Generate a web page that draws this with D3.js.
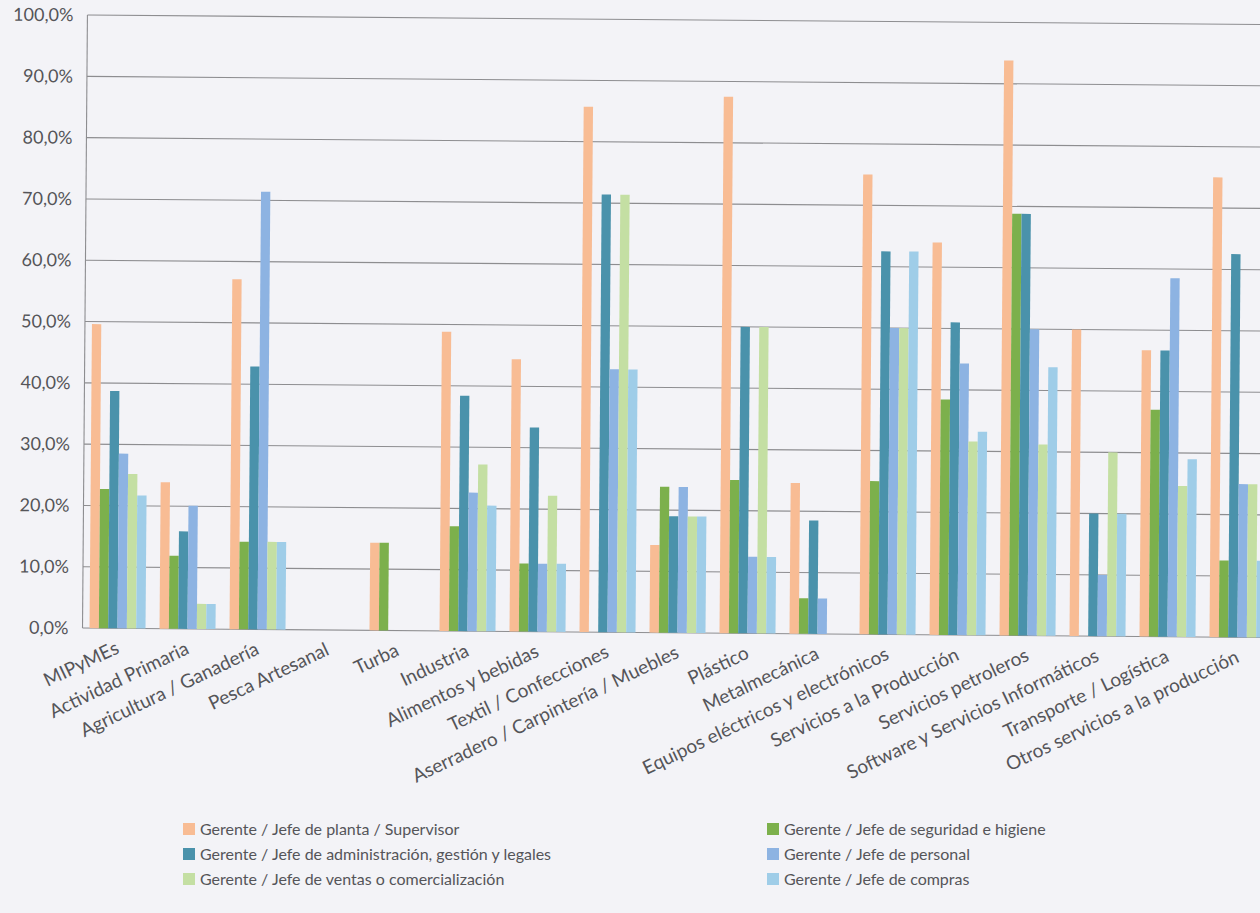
<!DOCTYPE html>
<html><head><meta charset="utf-8">
<script src="https://cdn.jsdelivr.net/npm/d3@7"></script>
<style>
html,body{margin:0;padding:0;background:#f3f3f7;}
svg{display:block;}
text{font-family:Lato,"Open Sans",sans-serif;fill:#555559;}
</style></head>
<body>
<svg id="chart" width="1260" height="913"></svg>
<script>
const categories = ["MIPyMEs","Actividad Primaria","Agricultura / Ganadería","Pesca Artesanal","Turba","Industria","Alimentos y bebidas","Textil / Confecciones","Aserradero / Carpintería / Muebles","Plástico","Metalmecánica","Equipos eléctricos y electrónicos","Servicios a la Producción","Servicios petroleros","Software y Servicios Informáticos","Transporte / Logística","Otros servicios a la producción"];
const seriesNames = ["Gerente / Jefe de planta / Supervisor","Gerente / Jefe de seguridad e higiene","Gerente / Jefe de administración, gestión  y legales","Gerente / Jefe de personal","Gerente / Jefe de ventas o comercialización","Gerente / Jefe de compras"];
const planta    = [49.6,23.9,57.1,0,14.3,48.8,44.4,85.7,14.3,87.5,24.6,75.0,64.0,93.8,50.0,46.7,75.0];
const seguridad = [22.7,11.9,14.3,0,14.3,17.1,11.1,0,23.8,25.0,5.8,25.0,38.4,68.8,0,37.0,12.5];
const admin     = [38.7,15.9,42.9,0,0,38.4,33.3,71.4,19.0,50.0,18.5,62.5,51.0,68.8,20.0,46.7,62.5];
const personal  = [28.5,20.1,71.4,0,0,22.6,11.1,42.9,23.8,12.5,5.8,50.0,44.3,50.0,10.0,58.5,25.0];
const ventas    = [25.2,4.1,14.3,0,0,27.2,22.2,71.4,19.0,50.0,0,50.0,31.6,31.2,30.0,24.6,25.0];
const compras   = [21.7,4.1,14.3,0,0,20.5,11.1,42.9,19.0,12.5,0,62.5,33.2,43.8,20.0,29.0,12.5];
const yTicks = [0,10,20,30,40,50,60,70,80,90,100];
const colors = ["#f8bc94","#7cb04c","#4a92ab","#8db3e2","#c4dfa3","#9fcde8"];
const seriesData = [planta,seguridad,admin,personal,ventas,compras];

const svg = d3.select("#chart");
const x0 = 85, step = 70;
const x = d3.scaleBand().domain(categories).range([x0, x0 + step*categories.length]).paddingInner(0.2).paddingOuter(0.1);
const xs = d3.scaleBand().domain(d3.range(seriesNames.length)).range([0, x.bandwidth()]);
const y = d3.scaleLinear().domain([0,100]).range([632.5,19.5]);

const g = svg.append("g").attr("transform","rotate(0.46,640,320)");

// gridlines
g.append("g").selectAll("line").data(yTicks).join("line")
  .attr("x1", x0).attr("x2", 1300)
  .attr("y1", d=>y(d)).attr("y2", d=>y(d))
  .attr("stroke","#8d8d90").attr("stroke-width",1.1);
// left axis line
g.append("line").attr("x1",x0).attr("x2",x0).attr("y1",y(100)).attr("y2",y(0)).attr("stroke","#8d8d90").attr("stroke-width",1.1);

// y labels
const yAxis = d3.axisLeft(y).tickValues(yTicks).tickSize(0).tickPadding(14)
  .tickFormat(d => d3.format(".1f")(d).replace(".",",") + "%");
const ya = g.append("g").attr("transform",`translate(${x0},0)`).call(yAxis);
ya.select(".domain").remove();
ya.attr("font-size",null).attr("font-family",null);
ya.selectAll("text").style("font-size","18px").style("fill","#555559").style("font-family","Lato");

// bars
seriesData.forEach((vals,si)=>{
  g.append("g").selectAll("rect").data(vals).join("rect")
    .attr("x",(d,i)=>x(categories[i]) + xs(si))
    .attr("width", xs.bandwidth())
    .attr("y", d=>y(d))
    .attr("height", d=>y(0)-y(d))
    .attr("fill", colors[si]);
});

// x labels
const xa = d3.axisBottom(x).tickSize(0).tickPadding(0);
const xg = g.append("g").attr("transform",`translate(0,${y(0)})`).call(xa);
xg.select(".domain").remove();
xg.attr("font-size",null).attr("font-family",null);
xg.selectAll("text")
  .style("font-size","19px").style("fill","#555559").style("font-family","Lato")
  .attr("text-anchor","end").attr("dy",0).attr("y",0)
  .attr("transform","translate(3,24) rotate(-26)");

// legend
const legendPos = [[183,829],[767,829],[183,854],[767,854],[183,879],[767,879]];
const lg = svg.append("g");
seriesNames.forEach((name,si)=>{
  const [lx,ly] = legendPos[si];
  lg.append("rect").attr("x",lx).attr("y",ly-6).attr("width",12).attr("height",12).attr("fill",colors[si]);
  lg.append("text").attr("x",lx+17).attr("y",ly).attr("dy","0.35em").style("font-size","16px").text(name);
});
</script>
</body></html>
